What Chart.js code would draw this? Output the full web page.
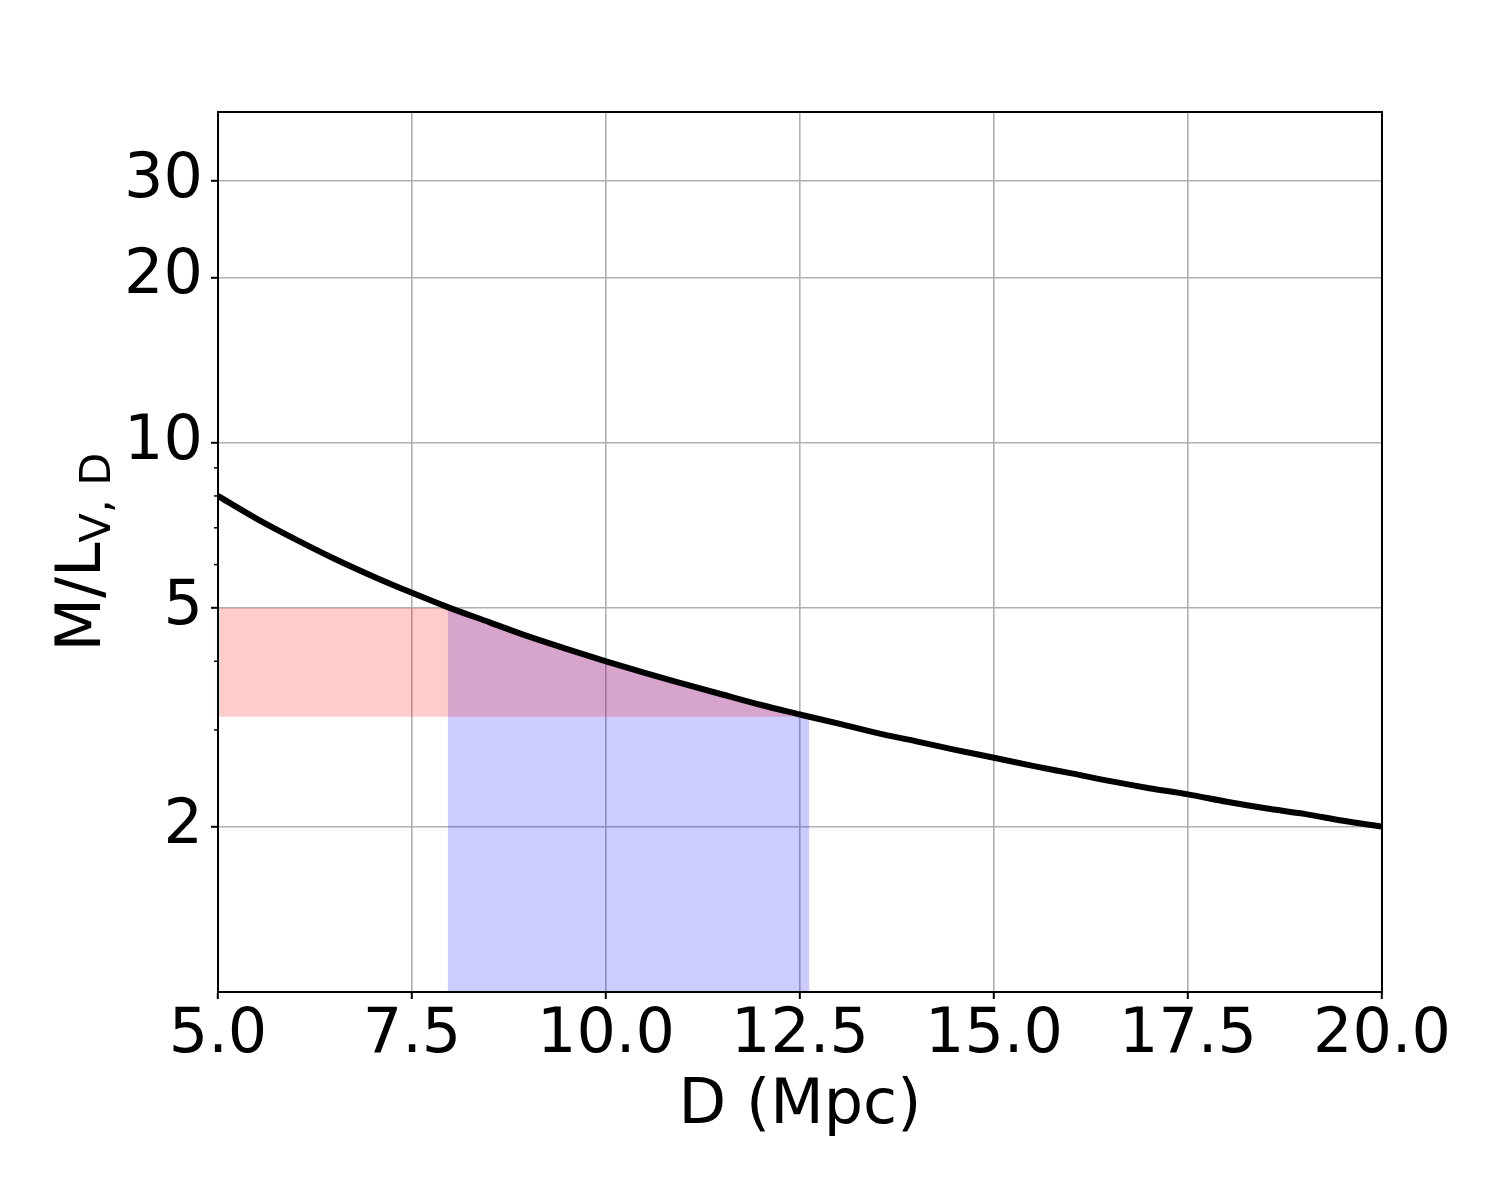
<!DOCTYPE html>
<html>
<head>
<meta charset="utf-8">
<script src="https://cdn.jsdelivr.net/npm/chart.js@4"></script>
<style>
  body { margin: 0; background: #fff; }
  #wrap { width: 1500px; height: 1200px; }
</style>
</head>
<body>
<div id="wrap"><canvas id="plot" width="1500" height="1200"></canvas></div>
<script>
// curve (D in Mpc, M/L)
const curveD  = [5, 5.5, 6, 6.5, 7, 7.5, 7.96, 8.5, 9, 9.5, 10, 10.5, 11, 11.5, 12, 12.5, 12.62, 13, 13.5, 14, 14.5, 15, 15.5, 16, 16.5, 17, 17.5, 18, 18.5, 19, 19.5, 20];
const curveML = [8.0, 7.27, 6.67, 6.15, 5.71, 5.33, 5.02, 4.71, 4.44, 4.21, 4.0, 3.81, 3.64, 3.48, 3.33, 3.2, 3.17, 3.08, 2.96, 2.86, 2.76, 2.67, 2.58, 2.5, 2.42, 2.35, 2.29, 2.22, 2.16, 2.11, 2.05, 2.0];

// shaded ranges
const rangeD  = [7.96, 12.62];
const rangeML = [3.17, 5];

const xTicks = [5, 7.5, 10, 12.5, 15, 17.5, 20];
const yMajor = [2, 5, 10, 20, 30];
const yMinor = [3, 4, 6, 7, 8, 9];

const fontName = "'DejaVu Sans', sans-serif";
const fontSize = 62;

let curvePts = curveD.map((d, i) => ({x: d, y: curveML[i]}));
let inRange = curvePts.filter(p => p.x >= rangeD[0] && p.x <= rangeD[1]);
let redPts = [{x: 5, y: rangeML[1]}, {x: rangeD[0], y: rangeML[1]}].concat(inRange.slice(1));

const extras = {
    id: 'extras',
    afterDraw(chart) {
        const c = chart.ctx;
        const a = chart.chartArea;
        const ys = chart.scales.y;
        c.save();
        // minor ticks
        c.strokeStyle = '#000';
        c.lineWidth = 1.5;
        yMinor.forEach(v => {
            let p = ys.getPixelForValue(v);
            c.beginPath();
            c.moveTo(a.left - 4, p);
            c.lineTo(a.left, p);
            c.stroke();
        });
        // frame
        c.lineWidth = 2;
        c.strokeRect(a.left, a.top, a.right - a.left, a.bottom - a.top);

        // x title
        c.fillStyle = '#000';
        c.font = fontSize + 'px ' + fontName;
        c.textAlign = 'center';
        c.textBaseline = 'alphabetic';
        c.fillText('D (Mpc)', (a.left + a.right) / 2, 1123);

        // y title with subscript
        c.translate(100, (a.top + a.bottom) / 2);
        c.rotate(-Math.PI / 2);
        c.textAlign = 'left';
        const main = 'M/L';
        const sub = 'V, D';
        c.font = fontSize + 'px ' + fontName;
        let w1 = c.measureText(main).width;
        c.font = Math.round(fontSize * 0.7) + 'px ' + fontName;
        let w2 = c.measureText(sub).width;
        let start = -(w1 + w2) / 2;
        c.font = fontSize + 'px ' + fontName;
        c.fillText(main, start, 0);
        c.font = Math.round(fontSize * 0.7) + 'px ' + fontName;
        c.fillText(sub, start + w1, 10);
        c.restore();
    }
};

const config = {
    type: 'line',
    data: {
        datasets: [
            {
                label: 'M/L',
                data: curvePts,
                borderColor: '#000',
                borderWidth: 6,
                pointRadius: 0,
                fill: false,
                cubicInterpolationMode: 'monotone',
                clip: 0
            },
            {
                label: 'ML range',
                data: redPts,
                borderWidth: 0,
                borderColor: 'rgba(0,0,0,0)',
                pointRadius: 0,
                fill: {target: {value: rangeML[0]}},
                backgroundColor: 'rgba(255,0,0,0.2)',
                clip: 0
            },
            {
                label: 'D range',
                data: inRange,
                borderWidth: 0,
                borderColor: 'rgba(0,0,0,0)',
                pointRadius: 0,
                fill: 'start',
                backgroundColor: 'rgba(0,0,255,0.2)',
                clip: 0
            }
        ]
    },
    options: {
        responsive: false,
        animation: false,
        events: [],
        layout: { padding: { top: 112, right: 118, left: 0, bottom: 0 } },
        plugins: {
            legend: { display: false },
            tooltip: { enabled: false }
        },
        scales: {
            x: {
                type: 'linear',
                min: 5,
                max: 20,
                afterFit(scale) { scale.height = 208; },
                afterBuildTicks(scale) { scale.ticks = xTicks.map(v => ({value: v})); },
                ticks: {
                    callback: v => v.toFixed(1),
                    color: '#000',
                    font: { family: fontName, size: fontSize },
                    padding: 0,
                    maxRotation: 0,
                    autoSkip: false
                },
                grid: {
                    color: '#b0b0b0',
                    lineWidth: 1.6,
                    tickColor: '#000',
                    tickLength: 7,
                    tickWidth: 2
                },
                border: { display: true, color: '#000', width: 2 }
            },
            y: {
                type: 'logarithmic',
                min: 1,
                max: 40,
                afterFit(scale) { scale.width = 218; },
                afterBuildTicks(scale) { scale.ticks = yMajor.map(v => ({value: v})); },
                ticks: {
                    callback: v => String(v),
                    color: '#000',
                    font: { family: fontName, size: fontSize },
                    padding: 8,
                    autoSkip: false
                },
                grid: {
                    color: '#b0b0b0',
                    lineWidth: 1.6,
                    tickColor: '#000',
                    tickLength: 7,
                    tickWidth: 2
                },
                border: { display: true, color: '#000', width: 2 }
            }
        }
    },
    plugins: [extras]
};

new Chart(document.getElementById('plot'), config);
</script>
</body>
</html>
